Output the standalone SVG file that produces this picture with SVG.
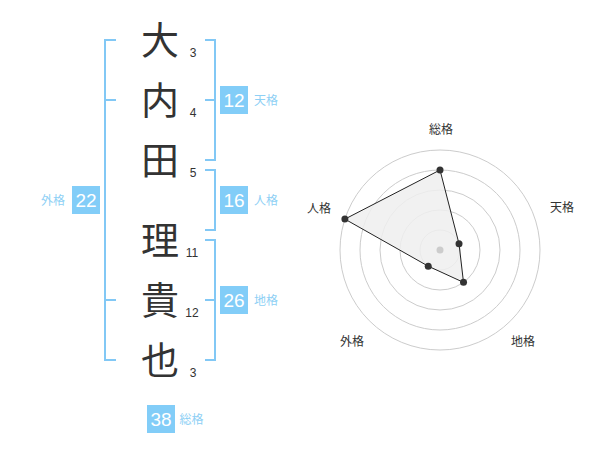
<svg xmlns="http://www.w3.org/2000/svg" width="600" height="470" viewBox="0 0 600 470">
<style>
.kanji{font-family:"Noto Sans CJK JP","Noto Sans CJK SC",sans-serif;font-size:38px;fill:#333;text-anchor:middle}
.strk{font-family:"Liberation Sans","Noto Sans CJK JP",sans-serif;font-size:12px;fill:#333;text-anchor:middle}
.br{fill:none;stroke:#82c8f5;stroke-width:2}
.box{fill:#82cdf8}
.num{font-family:"Liberation Sans","Noto Sans CJK JP",sans-serif;font-size:19px;fill:#fff;text-anchor:middle}
.lbl{font-family:"Noto Sans CJK JP","Liberation Sans",sans-serif;font-size:12px;fill:#8ed0f5;text-anchor:middle}
.ring{fill:none;stroke:#cccccc;stroke-width:1}
.axl{font-family:"Noto Sans CJK JP","Liberation Sans",sans-serif;font-size:12px;fill:#333;text-anchor:middle}
.dot{fill:#333}
</style>
<rect width="600" height="470" fill="#fff"/>
<g id="chars">
<text class="kanji" x="160" y="54">大</text>
<text class="kanji" x="160" y="114">内</text>
<text class="kanji" x="160" y="174">田</text>
<text class="kanji" x="160" y="254">理</text>
<text class="kanji" x="160" y="314">貴</text>
<text class="kanji" x="160" y="374">也</text>
<text class="strk" x="193" y="57">3</text>
<text class="strk" x="193" y="117">4</text>
<text class="strk" x="193" y="177">5</text>
<text class="strk" x="192" y="257">11</text>
<text class="strk" x="192" y="317">12</text>
<text class="strk" x="193" y="377">3</text>
</g>
<g id="connectors">
<path class="br" d="M116,40 H105 V360 H116 M105,100 H116 M105,300 H116"/>
<path class="br" d="M205,40 H215 V160 H205 M205,100 H215"/>
<path class="br" d="M205,170 H215 V230 H205"/>
<path class="br" d="M205,240 H215 V360 H205 M205,300 H215"/>
</g>
<g id="tenkaku">
<rect class="box" x="220" y="86" width="28" height="28"/>
<text class="num" x="234" y="107">12</text>
<text class="lbl" x="266" y="104.5">天格</text>
</g>
<g id="jinkaku">
<rect class="box" x="220" y="186" width="28" height="28"/>
<text class="num" x="234" y="207">16</text>
<text class="lbl" x="266" y="204.5">人格</text>
</g>
<g id="chikaku">
<rect class="box" x="220" y="286" width="28" height="28"/>
<text class="num" x="234" y="307">26</text>
<text class="lbl" x="266" y="304.5">地格</text>
</g>
<g id="gaikaku">
<rect class="box" x="72" y="186" width="28" height="28"/>
<text class="num" x="86" y="207">22</text>
<text class="lbl" x="53" y="204.5">外格</text>
</g>
<g id="soukaku">
<rect class="box" x="147" y="405" width="28" height="28"/>
<text class="num" x="161" y="426">38</text>
<text class="lbl" x="191.5" y="423.5">総格</text>
</g>
<g id="radar">
<circle class="ring" cx="440" cy="250" r="20"/>
<circle class="ring" cx="440" cy="250" r="40"/>
<circle class="ring" cx="440" cy="250" r="60"/>
<circle class="ring" cx="440" cy="250" r="80"/>
<circle class="ring" cx="440" cy="250" r="100"/>
<polygon points="440,170 459.02,243.82 463.51,282.36 428.24,266.18 344.89,219.10" fill="#eeeeee" fill-opacity="0.85" stroke="#222" stroke-width="1"/>
<circle cx="440" cy="250" r="3.5" fill="#cccccc"/>
<circle class="dot" cx="440" cy="170" r="3.5"/>
<circle class="dot" cx="459.02" cy="243.82" r="3.5"/>
<circle class="dot" cx="463.51" cy="282.36" r="3.5"/>
<circle class="dot" cx="428.24" cy="266.18" r="3.5"/>
<circle class="dot" cx="344.89" cy="219.10" r="3.5"/>
<text class="axl" x="441" y="134">総格</text>
<text class="axl" x="562" y="212">天格</text>
<text class="axl" x="523" y="346">地格</text>
<text class="axl" x="352" y="346">外格</text>
<text class="axl" x="319" y="213">人格</text>
</g>
</svg>
